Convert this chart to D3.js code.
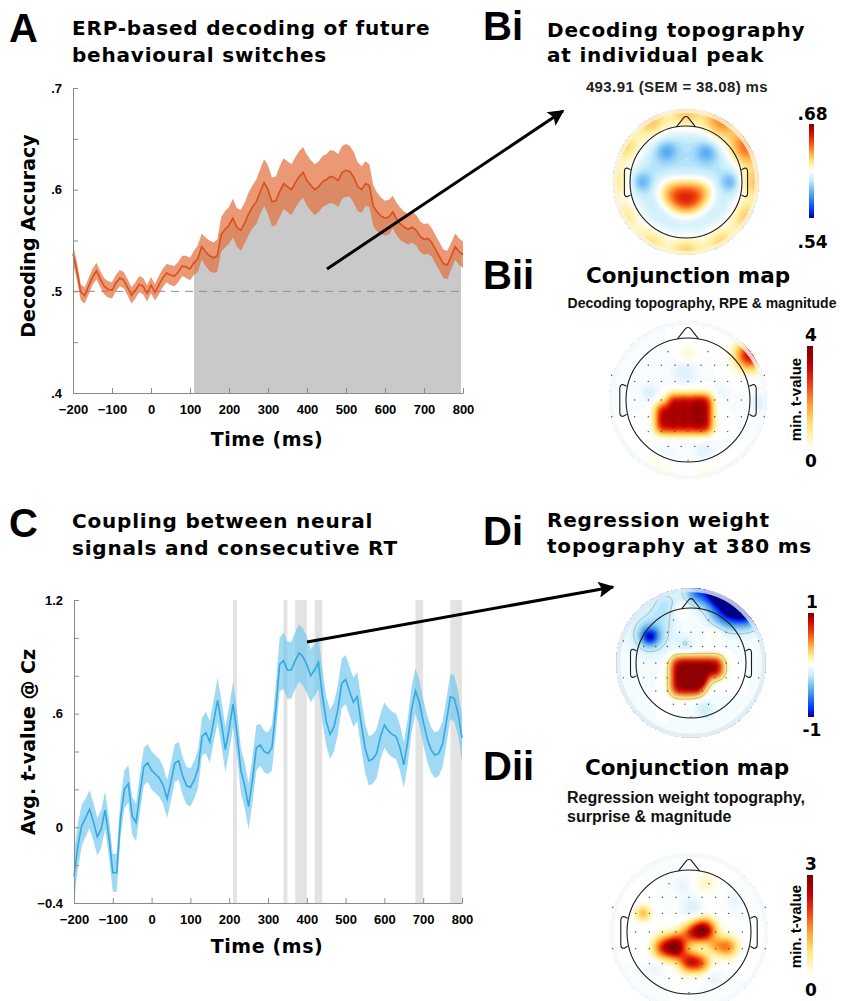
<!DOCTYPE html>
<html>
<head>
<meta charset="utf-8">
<script src="https://cdn.jsdelivr.net/npm/d3@7"></script>
<style>
  body { margin: 0; background: #fff; }
  text { font-family: "Liberation Sans", Arial, sans-serif; font-weight: bold; }
  .heavy { font-family: "DejaVu Sans", Verdana, sans-serif; font-weight: bold; }
</style>
</head>
<body>
<svg id="fig" width="841" height="1001"></svg>
<script>
// ---------------- data ----------------
// sample times (ms) shared by both time courses
const times = d3.range(-200, 801, 10);

// A: decoding accuracy (mean, SEM)
const meanA = [
  .537,.520,.499,.496,.505,.514,.520,.512,.505,.502,
  .501,.508,.513,.511,.504,.496,.501,.507,.505,.498,
  .506,.499,.506,.513,.518,.516,.515,.519,.525,.524,
  .522,.528,.532,.544,.539,.535,.533,.535,.556,.561,
  .565,.572,.563,.560,.567,.576,.583,.588,.598,.607,
  .600,.588,.589,.598,.606,.603,.600,.607,.613,.617,
  .609,.604,.600,.603,.608,.610,.613,.612,.609,.617,
  .619,.618,.612,.603,.600,.606,.604,.584,.578,.574,
  .572,.573,.578,.571,.566,.563,.561,.563,.560,.554,
  .551,.552,.548,.541,.534,.527,.526,.535,.544,.539,
  .536];
const semA = [
  .009,.009,.008,.008,.008,.008,.008,.008,.008,.008,
  .008,.008,.008,.008,.008,.008,.008,.008,.008,.008,
  .008,.008,.009,.009,.009,.010,.010,.010,.010,.011,
  .011,.012,.013,.013,.014,.015,.015,.016,.017,.018,
  .018,.019,.019,.020,.020,.021,.021,.022,.022,.023,
  .024,.024,.024,.025,.025,.025,.025,.025,.025,.025,
  .025,.025,.025,.025,.025,.025,.026,.026,.026,.026,
  .026,.025,.025,.024,.023,.022,.021,.020,.019,.018,
  .017,.017,.016,.016,.016,.015,.015,.015,.015,.015,
  .015,.015,.014,.014,.014,.014,.014,.013,.013,.013,
  .013];
const sigWindowA = [110, 795];

// C: average t-value at Cz (mean, SEM)
const meanC = [
  -.26,-.10,.01,.05,.095,.03,-.05,-.01,.09,-.05,
  -.24,-.24,.05,.20,.23,.06,.025,.18,.32,.34,
  .30,.28,.26,.22,.15,.24,.34,.35,.27,.22,
  .21,.25,.31,.48,.50,.45,.56,.67,.55,.41,
  .52,.65,.50,.30,.22,.11,.25,.42,.435,.40,
  .39,.42,.62,.86,.88,.83,.83,.88,.92,.90,
  .86,.80,.83,.87,.70,.56,.49,.53,.62,.76,
  .78,.72,.66,.69,.55,.42,.35,.36,.39,.48,
  .54,.51,.49,.48,.42,.33,.45,.62,.72,.66,
  .56,.47,.41,.38,.39,.44,.56,.69,.68,.60,
  .47];
const semC = [
  .13,.12,.11,.10,.10,.10,.10,.10,.10,.10,
  .10,.10,.10,.10,.10,.10,.10,.10,.10,.10,
  .10,.10,.10,.10,.10,.10,.10,.10,.10,.10,
  .10,.10,.10,.10,.11,.11,.11,.12,.12,.12,
  .12,.12,.12,.12,.12,.12,.12,.12,.11,.11,
  .11,.12,.13,.14,.15,.15,.15,.15,.15,.15,
  .15,.14,.14,.14,.14,.13,.13,.13,.13,.13,
  .13,.13,.13,.13,.13,.13,.13,.13,.13,.12,
  .12,.12,.12,.12,.12,.12,.12,.12,.12,.12,
  .12,.12,.12,.12,.12,.12,.12,.12,.12,.12,
  .12];
const sigWindowsC = [[210,220],[340,350],[370,400],[420,440],[680,700],[770,800]];

// axis ticks
const xTicks = [-200,-100,0,100,200,300,400,500,600,700,800];
const yTicksA = [.4,.45,.5,.55,.6,.65,.7];
const yLabelsA = [.4,.5,.6,.7];
const yTicksC = [-.4,-.2,0,.2,.4,.6,.8,1,1.2];
const yLabelsC = [-.4,0,.6,1.2];

// topography sources: [x, y, spread, amplitude] in head-radius units
const blobsBi = [
  [-0.3,0.15,0.18,0.022],[0.3,0.15,0.18,0.022],[0,0.15,0.18,0.022],[0,0.4,0.18,0.022],
  [-0.18,0.32,0.18,0.022],[0.18,0.32,0.18,0.022],
  [-0.35,-0.55,0.13,-0.018],[0.37,-0.53,0.13,-0.018],[-0.8,0,0.12,-0.018],[0.8,0,0.12,-0.018],
  [0,-1.26,0.24,0.036],[0.63,-1.09,0.24,0.046],[1.09,-0.63,0.24,0.052],[1.26,0,0.24,0.036],
  [1.09,0.63,0.24,0.034],[0.63,1.09,0.24,0.032],[0,1.26,0.24,0.034],[-0.63,1.09,0.24,0.03],
  [-1.09,0.63,0.24,0.028],[-1.26,0,0.24,0.028],[-1.09,-0.63,0.24,0.032],[-0.63,-1.09,0.24,0.036]];
const blobsBii = [
  [-0.24,0,0.09,1.9],[-0.06,0,0.09,1.9],[0.12,0,0.09,1.9],[0.29,0,0.09,1.9],
  [-0.42,0.15,0.09,1.9],[-0.24,0.15,0.09,1.9],[-0.06,0.15,0.09,1.9],[0.12,0.15,0.09,1.9],[0.29,0.15,0.09,1.9],
  [-0.42,0.3,0.09,1.9],[-0.24,0.3,0.09,1.9],[-0.06,0.3,0.09,1.9],[0.12,0.3,0.09,1.9],[0.29,0.3,0.09,1.9],
  [-0.42,0.45,0.09,1.9],[-0.24,0.45,0.09,1.9],[-0.06,0.45,0.09,1.9],[0.12,0.45,0.09,1.9],[0.29,0.45,0.09,1.9],
  [1.0,-0.72,0.16,3.2],
  [-0.05,-0.45,0.14,-0.5],[-0.62,-0.12,0.1,-0.5],[0.55,-0.12,0.08,-0.3],[0.25,0.82,0.12,-0.4],
  [1.15,0.05,0.1,-0.5],[-0.35,0.85,0.12,-0.25],
  [0,-0.73,0.1,0.5],[-0.5,1.15,0.2,0.35],[0.3,1.2,0.15,0.25]];
const blobsDi = [
  [-0.25,0,0.1,0.5],[-0.07,0,0.1,0.5],[0.11,0,0.1,0.5],[0.29,0,0.1,0.5],[0.47,0,0.1,0.5],
  [-0.25,0.16,0.1,0.5],[-0.07,0.16,0.1,0.5],[0.11,0.16,0.1,0.5],[0.29,0.16,0.1,0.5],[0.47,0.16,0.1,0.5],
  [-0.25,0.32,0.1,0.5],[-0.07,0.32,0.1,0.5],[0.11,0.32,0.1,0.5],[0.2,0.32,0.1,0.5],
  [-0.25,0.48,0.1,0.5],[-0.07,0.48,0.1,0.5],[0.11,0.48,0.1,0.5],
  [0.55,-1.3,0.22,-1.5],[0.95,-1.0,0.22,-1.3],[0.1,-1.3,0.15,-0.5],[0.6,-0.85,0.18,-0.35],
  [-0.75,-0.48,0.11,-0.7],[-0.72,-0.55,0.25,-0.3],[-0.1,-0.35,0.1,-0.15],[0.25,0.85,0.12,-0.15],
  [-0.45,-1.05,0.2,-0.2],[-0.2,-0.95,0.12,0.12],[0.45,-0.55,0.1,0.1]];
const blobsDii = [
  [0.25,-0.03,0.13,2.6],[0.05,0.02,0.12,1.5],[-0.18,0.15,0.12,1.4],[-0.4,0.25,0.13,2.0],
  [-0.2,0.3,0.11,1.5],[0,0.48,0.12,2.0],[0.2,0.5,0.11,1.4],[0.62,0.24,0.12,1.5],
  [0.42,0.22,0.1,0.8],[-0.74,-0.3,0.09,1.1],[0.28,-0.79,0.13,0.4],
  [0.05,-0.4,0.12,-0.5],[-0.1,-0.75,0.1,-0.3],[0.75,-0.5,0.1,-0.3],[0.4,0.75,0.1,-0.3],[-0.55,0.6,0.1,-0.3]];

// electrode rows: [y, xs] in head-radius units
const electrodeRows = [
  [-0.78, [-0.32, 0.32]],
  [-0.56, [-0.64,-0.43,-0.21,0,0.21,0.43,0.64]],
  [-0.40, [-1.23, 1.23]],
  [-0.30, [-0.86,-0.64,-0.43,-0.21,0,0.21,0.43,0.64,0.86]],
  [0.0,   [-0.86,-0.64,-0.43,-0.21,0,0.21,0.43,0.64,0.86]],
  [0.27,  [-1.23,-0.86,-0.64,-0.43,-0.21,0,0.21,0.43,0.64,0.86,1.23]],
  [0.51,  [-0.64,-0.43,-0.21,0,0.21,0.43,0.64]],
  [0.75,  [-0.32,-0.11,0.11,0.32]],
  [0.98,  [0]]];

// ---------------- setup ----------------
const svg = d3.select('#fig');
const defs = svg.append('defs');

defs.append('marker')
  .attr('id', 'arrow').attr('viewBox', '0 0 10 10')
  .attr('refX', 9).attr('refY', 5)
  .attr('markerUnits', 'userSpaceOnUse')
  .attr('markerWidth', 20).attr('markerHeight', 16)
  .attr('orient', 'auto')
  .append('path').attr('d', 'M0,0 L10,5 L0,10 L2,5 z').attr('fill', '#000');

const fmt = v => v === 0 ? '0' : d3.format('.1f')(v).replace(/^(-?)0\./, '$1.');
const has = (arr, v) => arr.some(a => Math.abs(a - v) < 1e-9);

function drawSeries(s) {
  const x = d3.scaleLinear().domain([-200, 800]).range([s.left, s.right]);
  const y = d3.scaleLinear().domain(s.yDomain).range([s.bottom, s.top]);
  const g = svg.append('g');
  const pts = times.map((t, i) => ({t: t, m: s.mean[i], e: s.sem[i]}));

  // grey significance shading
  if (s.sigArea) {
    defs.append('clipPath').attr('id', 'sigclip')
      .append('rect')
      .attr('x', x(s.sigArea[0])).attr('y', s.top)
      .attr('width', x(s.sigArea[1]) - x(s.sigArea[0])).attr('height', s.bottom - s.top);
    g.append('path').datum(pts)
      .attr('clip-path', 'url(#sigclip)')
      .attr('fill', '#c9c9c9')
      .attr('d', d3.area().x(d => x(d.t)).y0(y(s.yDomain[0])).y1(d => y(d.m)));
  }
  if (s.sigBars) {
    g.selectAll('rect.sig').data(s.sigBars).join('rect')
      .attr('x', d => x(d[0])).attr('width', d => x(d[1]) - x(d[0]))
      .attr('y', s.top).attr('height', s.bottom - s.top)
      .attr('fill', '#e3e3e3');
  }
  if (s.chance != null) {
    g.append('line')
      .attr('x1', x(-200)).attr('x2', x(800))
      .attr('y1', y(s.chance)).attr('y2', y(s.chance))
      .attr('stroke', '#8c8c8c').attr('stroke-dasharray', '8,6');
  }
  g.append('path').datum(pts)
    .attr('fill', s.bandColour).attr('fill-opacity', s.bandOpacity)
    .attr('d', d3.area().x(d => x(d.t)).y0(d => y(d.m - d.e)).y1(d => y(d.m + d.e)));
  g.append('path').datum(pts)
    .attr('fill', 'none').attr('stroke', s.lineColour).attr('stroke-width', 1.6)
    .attr('d', d3.line().x(d => x(d.t)).y(d => y(d.m)));

  const yAxis = d3.axisLeft(y).tickValues(s.yTicks).tickSize(-5).tickSizeOuter(0)
    .tickPadding(11).tickFormat(d => has(s.yLabels, d) ? fmt(d) : '');
  const xAxis = d3.axisBottom(x).tickValues(xTicks).tickSize(-5).tickSizeOuter(0)
    .tickPadding(12).tickFormat(d3.format('d'));
  const ya = g.append('g').attr('transform', 'translate(' + s.left + ',0)').call(yAxis);
  const xa = g.append('g').attr('transform', 'translate(0,' + s.bottom + ')').call(xAxis);
  [ya, xa].forEach(a => {
    a.selectAll('path, line').attr('stroke', '#8a8a8a');
    a.selectAll('text').attr('fill', '#000').attr('font-size', 13)
      .attr('font-family', '"Liberation Sans", Arial, sans-serif').attr('font-weight', 'bold');
  });

  svg.append('text').attr('class', 'heavy')
    .attr('x', (s.left + s.right) / 2 - 1).attr('y', s.xLabelY)
    .attr('text-anchor', 'middle').attr('font-size', 19).attr('letter-spacing', 0.6)
    .text('Time (ms)');
}

// colour maps
const divStops = [0, .08, .25, .4, .5, .58, .68, .8, .93, 1];
const divCols = ['#00008a','#0030ff','#4aa6f2','#c4ecfb','#ffffff','#fff1a0','#ffb24a','#f54c12','#c40000','#800000'];
const divScale = (lo, hi) => d3.scaleLinear()
  .domain(divStops.map(f => lo + f * (hi - lo))).range(divCols).clamp(true);
const hotStops = [0, .08, .25, .45, .65, .82, 1];
const hotCols = ['#ffffff','#fffbe0','#ffe680','#ffa030','#f03a10','#c00000','#780000'];
function hotScale(hi) {
  const pos = d3.scaleLinear().domain(hotStops.map(f => f * hi)).range(hotCols).clamp(true);
  const neg = d3.scaleLinear().domain([-2, 0]).range(['#7ccaf0', '#ffffff']).clamp(true);
  return v => v < 0 ? neg(v) : pos(v);
}

function drawTopo(t) {
  const R = t.r, OUT = t.outer, N = 100, span = 2 * OUT;
  const vals = new Float64Array(N * N);
  for (let j = 0; j < N; j++) {
    for (let i = 0; i < N; i++) {
      const px = -OUT + (i + 0.5) * span / N, py = -OUT + (j + 0.5) * span / N;
      let v = t.base;
      for (const b of t.blobs) {
        v += b[3] * Math.exp(-((px - b[0]) ** 2 + (py - b[1]) ** 2) / (2 * b[2] * b[2]));
      }
      vals[j * N + i] = Math.max(t.lo, Math.min(t.hi, v));
    }
  }
  const clipId = 'clip-' + t.id;
  defs.append('clipPath').attr('id', clipId).append('circle')
    .attr('cx', t.cx).attr('cy', t.cy).attr('r', OUT * R);
  const inner = svg.append('g').attr('clip-path', 'url(#' + clipId + ')')
    .append('g').attr('transform', 'translate(' + t.cx + ',' + t.cy + ')');
  const path = d3.geoPath(d3.geoIdentity().scale(span * R / N).translate([-OUT * R, -OUT * R]));
  const bands = d3.contours().size([N, N]).thresholds(d3.range(t.lo, t.hi, (t.hi - t.lo) / 60))(vals);
  inner.selectAll('path.band').data(bands).join('path')
    .attr('d', path).attr('fill', d => t.colour(d.value))
    .attr('stroke', d => t.colour(d.value)).attr('stroke-width', 0.4);
  if (t.lines) {
    const iso = d3.contours().size([N, N]).thresholds(t.lines)(vals);
    inner.selectAll('path.iso').data(iso).join('path')
      .attr('d', path).attr('fill', 'none')
      .attr('stroke', '#8fa096').attr('stroke-width', 0.7);
  }

  // head outline, nose, ears and electrodes on top of the map
  const g = svg.append('g').attr('transform', 'translate(' + t.cx + ',' + t.cy + ')');
  g.append('circle').attr('r', OUT * R - 2).attr('fill', 'none')
    .attr('stroke', t.rim).attr('stroke-width', 4).attr('opacity', 0.8);
  const s = R;
  g.append('circle').attr('r', R).attr('fill', 'none').attr('stroke', '#1a1a1a').attr('stroke-width', 1.1);
  g.append('path').attr('fill', 'none').attr('stroke', '#1a1a1a').attr('stroke-width', 1.1)
    .attr('d', 'M' + (-0.17 * s) + ',' + (-0.985 * s) + ' L' + (-0.04 * s) + ',' + (-1.15 * s) +
      ' Q0,' + (-1.19 * s) + ' ' + (0.04 * s) + ',' + (-1.15 * s) + ' L' + (0.17 * s) + ',' + (-0.985 * s));
  [-1, 1].forEach(side => {
    const p = d3.path();
    p.moveTo(side * 0.99 * s, -0.22 * s);
    p.lineTo(side * 1.05 * s, -0.25 * s);
    p.quadraticCurveTo(side * 1.1 * s, -0.25 * s, side * 1.1 * s, -0.18 * s);
    p.lineTo(side * 1.1 * s, 0.2 * s);
    p.quadraticCurveTo(side * 1.1 * s, 0.27 * s, side * 1.04 * s, 0.26 * s);
    p.lineTo(side * 0.99 * s, 0.23 * s);
    g.append('path').attr('d', p.toString()).attr('fill', 'none')
      .attr('stroke', '#1a1a1a').attr('stroke-width', 1.1);
  });
  if (t.dots) {
    const pts = [];
    electrodeRows.forEach(r => r[1].forEach(xx => pts.push([xx, r[0]])));
    g.selectAll('circle.el').data(pts).join('circle')
      .attr('cx', d => d[0] * R).attr('cy', d => d[1] * R).attr('r', 0.7).attr('fill', '#444');
  }
}

function drawColourbar(c) {
  const gid = 'grad-' + c.id;
  const grad = defs.append('linearGradient').attr('id', gid)
    .attr('x1', 0).attr('y1', 1).attr('x2', 0).attr('y2', 0);
  d3.range(0, 1.0001, 0.02).forEach(f => {
    grad.append('stop').attr('offset', f).attr('stop-color', c.colour(c.lo + f * (c.hi - c.lo)));
  });
  svg.append('rect').attr('x', c.x).attr('y', c.top).attr('width', c.w).attr('height', c.bottom - c.top)
    .attr('fill', 'url(#' + gid + ')');
  svg.append('text').attr('class', 'heavy').attr('x', c.x + c.w / 2 + 1).attr('y', c.topLabelY)
    .attr('text-anchor', 'middle').attr('font-size', 17).text(c.labels[0]);
  svg.append('text').attr('class', 'heavy').attr('x', c.x + c.w / 2 + 1).attr('y', c.botLabelY)
    .attr('text-anchor', 'middle').attr('font-size', 17).text(c.labels[1]);
  if (c.title) {
    svg.append('text')
      .attr('transform', 'translate(' + (c.x - 6) + ',' + ((c.top + c.bottom) / 2) + ') rotate(-90)')
      .attr('text-anchor', 'middle').attr('font-size', 15).text(c.title);
  }
}

function text(x, y, str, opts) {
  opts = opts || {};
  return svg.append('text').attr('x', x).attr('y', y)
    .attr('class', opts.heavy ? 'heavy' : null)
    .attr('font-size', opts.size || 14)
    .attr('letter-spacing', opts.spacing || 0)
    .attr('text-anchor', opts.anchor || 'start')
    .attr('fill', opts.fill || '#000')
    .text(str);
}

// ---------------- panel A ----------------
drawSeries({
  left: 73, right: 463, top: 88, bottom: 393, yDomain: [.4, .7],
  mean: meanA, sem: semA, yTicks: yTicksA, yLabels: yLabelsA,
  sigArea: sigWindowA, chance: .5,
  bandColour: '#e3703f', bandOpacity: 0.72, lineColour: '#d9501c', xLabelY: 446
});
svg.append('text').attr('class', 'heavy')
  .attr('transform', 'translate(35,236) rotate(-90)')
  .attr('text-anchor', 'middle').attr('font-size', 19).text('Decoding Accuracy');

// ---------------- panel C ----------------
drawSeries({
  left: 74, right: 462, top: 600, bottom: 903, yDomain: [-.4, 1.2],
  mean: meanC, sem: semC, yTicks: yTicksC, yLabels: yLabelsC,
  sigBars: sigWindowsC,
  bandColour: '#6cc4ee', bandOpacity: 0.65, lineColour: '#33a9e0', xLabelY: 953
});
const yl = svg.append('text').attr('class', 'heavy')
  .attr('transform', 'translate(35,742) rotate(-90)')
  .attr('text-anchor', 'middle').attr('font-size', 19);
yl.append('tspan').text('Avg. ');
yl.append('tspan').attr('font-style', 'italic').text('t');
yl.append('tspan').text('-value @ Cz');

// ---------------- topographies ----------------
const colBi = divScale(.54, .68), colDi = divScale(-1, 1);
const colBii = hotScale(4), colDii = hotScale(3);
drawTopo({id: 'bi', cx: 686, cy: 182, r: 56, outer: 1.3, base: .594, lo: .54, hi: .68,
  colour: colBi, blobs: blobsBi, rim: '#fdf3dc', dots: false});
drawTopo({id: 'bii', cx: 688, cy: 400, r: 62, outer: 1.27, base: 0, lo: -2, hi: 4,
  colour: colBii, blobs: blobsBii, rim: '#f4f7fa', dots: true});
drawTopo({id: 'di', cx: 691, cy: 663, r: 55, outer: 1.36, base: 0, lo: -1, hi: 1,
  colour: colDi, blobs: blobsDi, rim: '#dde8f4', dots: true, lines: [-0.5, -0.15, 0.15, 0.5]});
drawTopo({id: 'dii', cx: 689, cy: 932, r: 62, outer: 1.27, base: 0, lo: -2, hi: 3,
  colour: colDii, blobs: blobsDii, rim: '#f4f7fa', dots: true});

drawColourbar({id: 'bi', x: 809, w: 5, top: 124, bottom: 218, lo: .54, hi: .68, colour: colBi,
  labels: ['.68', '.54'], topLabelY: 120, botLabelY: 248});
drawColourbar({id: 'bii', x: 807, w: 6, top: 346, bottom: 453, lo: 0, hi: 4, colour: colBii,
  labels: ['4', '0'], topLabelY: 341, botLabelY: 467, title: 'min. t-value'});
drawColourbar({id: 'di', x: 808, w: 6, top: 613, bottom: 717, lo: -1, hi: 1, colour: colDi,
  labels: ['1', '-1'], topLabelY: 608, botLabelY: 736});
drawColourbar({id: 'dii', x: 807, w: 6, top: 875, bottom: 978, lo: 0, hi: 3, colour: colDii,
  labels: ['3', '0'], topLabelY: 870, botLabelY: 996, title: 'min. t-value'});

// ---------------- arrows ----------------
svg.append('line').attr('x1', 327).attr('y1', 269).attr('x2', 563).attr('y2', 111)
  .attr('stroke', '#000').attr('stroke-width', 3).attr('marker-end', 'url(#arrow)');
svg.append('line').attr('x1', 307).attr('y1', 642).attr('x2', 613).attr('y2', 587)
  .attr('stroke', '#000').attr('stroke-width', 3).attr('marker-end', 'url(#arrow)');

// ---------------- labels and titles ----------------
text(9, 42, 'A', {size: 40});
text(483, 40, 'Bi', {size: 40});
text(483, 289, 'Bii', {size: 40});
text(9, 537, 'C', {size: 40});
text(483, 545, 'Di', {size: 40});
text(483, 780, 'Dii', {size: 40});

const titleOpts = {heavy: true, size: 20, spacing: 0.8};
text(72, 35, 'ERP-based decoding of future', titleOpts);
text(72, 62, 'behavioural switches', titleOpts);
text(547, 37, 'Decoding topography', titleOpts);
text(547, 62, 'at individual peak', titleOpts);
text(677, 92, '493.91 (SEM = 38.08) ms', {size: 15, spacing: 0.4, anchor: 'middle', fill: '#222'});
text(688, 283, 'Conjunction map', {heavy: true, size: 21.5, anchor: 'middle'});
text(702, 308, 'Decoding topography, RPE & magnitude', {size: 14, anchor: 'middle', fill: '#111'});
text(72, 528, 'Coupling between neural', titleOpts);
text(72, 555, 'signals and consecutive RT', titleOpts);
text(547, 527, 'Regression weight', titleOpts);
text(547, 553, 'topography at 380 ms', titleOpts);
text(687, 775, 'Conjunction map', {heavy: true, size: 21.5, anchor: 'middle'});
text(567, 803, 'Regression weight topography,', {size: 16, fill: '#111'});
text(567, 822, 'surprise & magnitude', {size: 16, fill: '#111'});
</script>
</body>
</html>
